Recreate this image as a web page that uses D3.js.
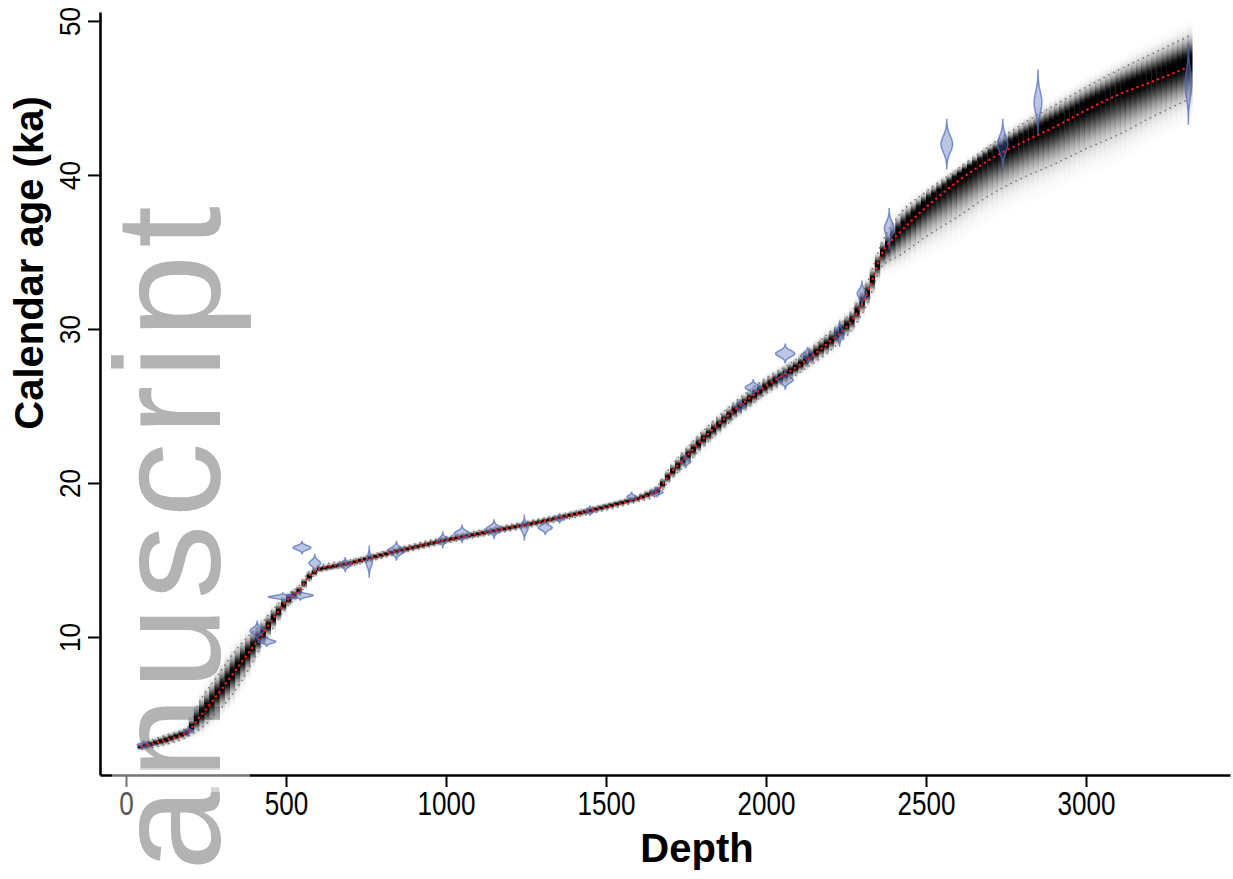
<!DOCTYPE html>
<html>
<head>
<meta charset="utf-8">
<script src="https://cdn.jsdelivr.net/npm/d3@7"></script>
<style>
	body { margin: 0; background: #fff; }
	svg { display: block; font-family: "Liberation Sans", Arial, sans-serif; }
</style>
</head>
<body>
<div id="chart"></div>
<script>
//	age-depth model: depth, mean age, densest age and 95% range (ka)
const modelDepth = [50, 120, 190, 230, 280, 330, 380, 420, 460, 500, 540, 570, 600, 700, 850, 1000, 1150, 1300, 1450, 1600, 1660, 1700, 1750, 1800, 1900, 2000, 2100, 2200, 2270, 2320, 2360, 2420, 2500, 2600, 2700, 2800, 2900, 3000, 3100, 3200, 3320];
const modelMean = [2.9, 3.3, 3.8, 4.8, 6.1, 7.5, 8.9, 10.0, 11.2, 12.3, 13.0, 13.9, 14.4, 14.8, 15.6, 16.3, 16.9, 17.5, 18.2, 19.0, 19.5, 20.6, 21.7, 22.8, 24.7, 26.3, 27.6, 29.2, 30.6, 32.5, 34.8, 36.3, 37.9, 39.6, 41.0, 42.1, 43.1, 44.2, 45.2, 46.0, 47.0];
const modelMode = [2.9, 3.3, 3.8, 4.9, 6.2, 7.6, 9.0, 10.0, 11.2, 12.3, 13.0, 13.9, 14.4, 14.8, 15.6, 16.3, 16.9, 17.5, 18.2, 19.0, 19.5, 20.6, 21.7, 22.8, 24.7, 26.3, 27.6, 29.2, 30.6, 32.5, 34.9, 36.6, 38.3, 40.0, 41.4, 42.5, 43.5, 44.6, 45.6, 46.4, 47.4];
const modelLow = [2.7, 3.0, 3.5, 4.0, 5.0, 6.2, 7.8, 9.3, 10.6, 11.9, 12.7, 13.6, 14.2, 14.6, 15.4, 16.1, 16.7, 17.3, 18.0, 18.8, 19.2, 20.2, 21.2, 22.3, 24.2, 25.8, 27.1, 28.6, 30.0, 31.8, 34.0, 34.8, 36.0, 37.3, 38.7, 39.8, 40.7, 41.7, 42.6, 43.7, 44.9];
const modelHigh = [3.1, 3.6, 4.1, 5.8, 7.3, 8.8, 10.0, 10.8, 11.8, 12.7, 13.3, 14.2, 14.6, 15.0, 15.8, 16.5, 17.1, 17.7, 18.4, 19.2, 19.8, 21.0, 22.2, 23.3, 25.2, 26.8, 28.1, 29.8, 31.2, 33.2, 35.5, 37.5, 38.9, 40.4, 41.9, 43.3, 44.5, 45.7, 46.8, 47.8, 49.0];

//	dated levels: depth, calibrated age, age spread (ka), thickness (depth units)
const dateDepth = [55, 195, 410, 440, 490, 545, 550, 590, 685, 760, 845, 990, 1050, 1150, 1245, 1310, 1355, 1450, 1580, 1660, 1750, 1920, 1960, 2060, 2060, 2130, 2230, 2300, 2385, 2565, 2740, 2850, 3320];
const dateAge = [3.0, 3.9, 10.4, 9.7, 12.6, 12.7, 15.8, 14.8, 14.7, 14.9, 15.6, 16.3, 16.7, 17.0, 17.1, 17.1, 17.7, 18.2, 19.1, 19.4, 21.4, 25.0, 26.2, 28.4, 26.7, 28.3, 29.7, 32.3, 36.5, 42.0, 42.0, 44.7, 45.9];
const dateSpread = [0.25, 0.25, 0.6, 0.3, 0.25, 0.3, 0.4, 0.55, 0.45, 1.0, 0.6, 0.5, 0.55, 0.6, 0.8, 0.45, 0.3, 0.3, 0.3, 0.3, 0.4, 0.4, 0.5, 0.6, 0.6, 0.5, 0.8, 0.8, 1.3, 1.6, 1.6, 2.1, 2.6];
const dateThick = [20, 15, 22, 28, 45, 40, 28, 18, 20, 10, 28, 15, 25, 25, 12, 22, 15, 15, 15, 18, 15, 15, 25, 30, 25, 20, 15, 15, 15, 18, 16, 12, 10];

const xTicks = [0, 500, 1000, 1500, 2000, 2500, 3000];
const yTicks = [10, 20, 30, 40, 50];

const W = 1233, H = 879;

const svg = d3.select('#chart')
	.append('svg')
	.attr('width', W)
	.attr('height', H);

const x = d3.scaleLinear().domain([-81.25, 3450]).range([100, 1230]);
const y = d3.scaleLinear().domain([1.04, 50.58]).range([775, 12]);

//	piecewise model lookups
const modeAt = d3.scaleLinear().domain(modelDepth).range(modelMode);
const lowAt = d3.scaleLinear().domain(modelDepth).range(modelLow);
const highAt = d3.scaleLinear().domain(modelDepth).range(modelHigh);

//	watermark behind everything
svg.append('text')
	.attr('transform', 'translate(220,199) rotate(-90)')
	.attr('text-anchor', 'end')
	.style('font-size', '150px')
	.style('letter-spacing', '7px')
	.style('fill', '#b3b3b3')
	.text('anuscript');

//	grey density band, one column per depth step
const step = 16;
const columns = d3.range(44, 3332, step);
const defs = svg.append('defs');
const band = svg.append('g');
columns.forEach((d, i) => {
	const m = modeAt(d), lo = lowAt(d), hi = highAt(d);
	const sUp = (hi - m) / 1.96, sDn = (m - lo) / 1.96;
	const top = m + sUp * 3.2, bot = m - sDn * 3.2;
	const grad = defs.append('linearGradient')
		.attr('id', 'g' + i)
		.attr('x1', 0).attr('y1', 0).attr('x2', 0).attr('y2', 1);
	d3.range(0, 1.0001, 0.04).forEach(f => {
		const a = top - f * (top - bot);
		const z = a >= m ? (a - m) / sUp : (m - a) / sDn;
		const op = Math.min(1, 1.05 * Math.exp(-0.5 * z * z));
		grad.append('stop')
			.attr('offset', f)
			.attr('stop-color', '#000')
			.attr('stop-opacity', op);
	});
	band.append('rect')
		.attr('x', x(d - step / 2))
		.attr('width', x(step) - x(0) + 0.3)
		.attr('y', y(top))
		.attr('height', y(bot) - y(top))
		.style('fill', 'url(#g' + i + ')');
});

//	calibrated dates as violins
const violin = d3.area()
	.x0(p => x(p.d - p.w))
	.x1(p => x(p.d + p.w))
	.y(p => y(p.a))
	.curve(d3.curveBasis);
svg.append('g')
	.selectAll('path')
	.data(dateDepth.map((d, i) => ({ d, age: dateAge[i], sd: dateSpread[i] / 3, w: dateThick[i] })))
	.enter()
	.append('path')
	.attr('d', v => violin(d3.range(-3, 3.001, 0.1).map(t => ({
		d: v.d,
		a: v.age + t * v.sd,
		w: v.w * Math.exp(-0.5 * t * t)
	}))))
	.style('fill', 'rgba(80,105,185,0.38)')
	.style('stroke', 'rgba(80,105,185,0.7)')
	.style('stroke-width', 1.5);

//	range and mean lines
const modelLine = arr => d3.line()
	.x((d, i) => x(modelDepth[i]))
	.y((d, i) => y(arr[i]))
	.curve(d3.curveMonotoneX)(arr);
[modelLow, modelHigh].forEach(arr => {
	svg.append('path')
		.attr('d', modelLine(arr))
		.style('fill', 'none')
		.style('stroke', '#7a7a7a')
		.style('stroke-width', 1.7)
		.style('stroke-linecap', 'round')
		.style('stroke-dasharray', '0.1 5.4');
});
svg.append('path')
	.attr('d', modelLine(modelMean))
	.style('fill', 'none')
	.style('stroke', '#ff1a1a')
	.style('stroke-width', 2.4)
	.style('stroke-linecap', 'round')
	.style('stroke-dasharray', '0.1 5.4');

//	axes
const xAxis = svg.append('g')
	.attr('transform', 'translate(0,775)')
	.call(d3.axisBottom(x).tickValues(xTicks).tickSize(12).tickSizeOuter(0).tickFormat(d3.format('d')));
const yAxis = svg.append('g')
	.attr('transform', 'translate(100,0)')
	.call(d3.axisLeft(y).tickValues(yTicks).tickSize(12).tickSizeOuter(0));
[xAxis, yAxis].forEach(g => {
	g.select('.domain').style('stroke', '#000').style('stroke-width', 2.6);
	g.selectAll('.tick line').style('stroke', '#000').style('stroke-width', 2);
});
xAxis.selectAll('.tick text')
	.attr('y', 40)
	.attr('dy', 0)
	.style('font-size', '33px')
	.style('fill', d => d === 0 ? '#555' : '#000')
	.attr('textLength', d => String(d).length * 14.5)
	.attr('lengthAdjust', 'spacingAndGlyphs');
yAxis.selectAll('.tick text')
	.attr('x', 0)
	.attr('dy', 0)
	.attr('text-anchor', 'middle')
	.attr('transform', 'translate(-20,0) rotate(-90)')
	.style('font-size', '30px')
	.style('fill', '#000')
	.attr('textLength', d => String(d).length * 14.5)
	.attr('lengthAdjust', 'spacingAndGlyphs');

//	the watermark box greys the axis where it crosses
svg.append('rect')
	.attr('x', 112)
	.attr('y', 768)
	.attr('width', 138)
	.attr('height', 24)
	.style('fill', '#fff')
	.style('opacity', 0.45);

//	axis titles
svg.append('text')
	.attr('transform', 'translate(43,263) rotate(-90)')
	.attr('text-anchor', 'middle')
	.style('font-size', '40px')
	.style('font-weight', 'bold')
	.text('Calendar age (ka)');
svg.append('text')
	.attr('x', 697)
	.attr('y', 862)
	.attr('text-anchor', 'middle')
	.style('font-size', '40px')
	.style('font-weight', 'bold')
	.text('Depth');
</script>
</body>
</html>
